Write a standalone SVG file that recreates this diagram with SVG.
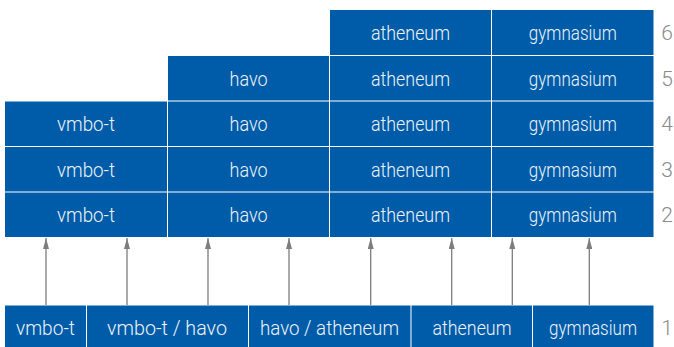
<svg xmlns="http://www.w3.org/2000/svg" width="674" height="347" viewBox="0 0 674 347">
<style>
.c{fill:#005ca8}
.t{font-family:Roboto,"Liberation Sans",sans-serif;font-weight:300;font-size:20px;fill:#eef3f9;text-anchor:middle}
.n{font-family:Roboto,"Liberation Sans",sans-serif;font-weight:300;font-size:21px;fill:#8a8a8a;text-anchor:middle}
.a{stroke:#7d7d7d;stroke-width:1.3;fill:none;marker-end:url(#ah)}
</style>
<defs>
<marker id="ah" viewBox="0 0 11 6" refX="11" refY="3" markerWidth="11" markerHeight="6" markerUnits="userSpaceOnUse" orient="auto">
<path d="M0,0 L11,3 L0,6 Z" fill="#7d7d7d"/>
</marker>
</defs>
<rect width="674" height="347" fill="#fff"/>
<g id="row6">
<g id="r6-atheneum"><rect class="c" x="330" y="10" width="161" height="45"/><text class="t" x="410.5" y="40" textLength="79" lengthAdjust="spacingAndGlyphs">atheneum</text></g>
<g id="r6-gymnasium"><rect class="c" x="492" y="10" width="161.5" height="45"/><text class="t" x="572.8" y="40" textLength="88" lengthAdjust="spacingAndGlyphs">gymnasium</text></g>
<text class="n" x="667" y="40">6</text>
</g>
<g id="row5">
<g id="r5-havo"><rect class="c" x="168" y="56" width="161" height="44.5"/><text class="t" x="248.5" y="85.5" textLength="38" lengthAdjust="spacingAndGlyphs">havo</text></g>
<g id="r5-atheneum"><rect class="c" x="330" y="56" width="161" height="44.5"/><text class="t" x="410.5" y="85.5" textLength="79" lengthAdjust="spacingAndGlyphs">atheneum</text></g>
<g id="r5-gymnasium"><rect class="c" x="492" y="56" width="161.5" height="44.5"/><text class="t" x="572.8" y="85.5" textLength="88" lengthAdjust="spacingAndGlyphs">gymnasium</text></g>
<text class="n" x="667" y="85.5">5</text>
</g>
<g id="row4">
<g id="r4-vmbo"><rect class="c" x="5" y="101.5" width="162" height="44.5"/><text class="t" x="86" y="131" textLength="58" lengthAdjust="spacingAndGlyphs">vmbo-t</text></g>
<g id="r4-havo"><rect class="c" x="168" y="101.5" width="161" height="44.5"/><text class="t" x="248.5" y="131" textLength="38" lengthAdjust="spacingAndGlyphs">havo</text></g>
<g id="r4-atheneum"><rect class="c" x="330" y="101.5" width="161" height="44.5"/><text class="t" x="410.5" y="131" textLength="79" lengthAdjust="spacingAndGlyphs">atheneum</text></g>
<g id="r4-gymnasium"><rect class="c" x="492" y="101.5" width="161.5" height="44.5"/><text class="t" x="572.8" y="131" textLength="88" lengthAdjust="spacingAndGlyphs">gymnasium</text></g>
<text class="n" x="667" y="131">4</text>
</g>
<g id="row3">
<g id="r3-vmbo"><rect class="c" x="5" y="147" width="162" height="44.5"/><text class="t" x="86" y="176.5" textLength="58" lengthAdjust="spacingAndGlyphs">vmbo-t</text></g>
<g id="r3-havo"><rect class="c" x="168" y="147" width="161" height="44.5"/><text class="t" x="248.5" y="176.5" textLength="38" lengthAdjust="spacingAndGlyphs">havo</text></g>
<g id="r3-atheneum"><rect class="c" x="330" y="147" width="161" height="44.5"/><text class="t" x="410.5" y="176.5" textLength="79" lengthAdjust="spacingAndGlyphs">atheneum</text></g>
<g id="r3-gymnasium"><rect class="c" x="492" y="147" width="161.5" height="44.5"/><text class="t" x="572.8" y="176.5" textLength="88" lengthAdjust="spacingAndGlyphs">gymnasium</text></g>
<text class="n" x="667" y="176.5">3</text>
</g>
<g id="row2">
<g id="r2-vmbo"><rect class="c" x="5" y="192.5" width="162" height="44.5"/><text class="t" x="86" y="222" textLength="58" lengthAdjust="spacingAndGlyphs">vmbo-t</text></g>
<g id="r2-havo"><rect class="c" x="168" y="192.5" width="161" height="44.5"/><text class="t" x="248.5" y="222" textLength="38" lengthAdjust="spacingAndGlyphs">havo</text></g>
<g id="r2-atheneum"><rect class="c" x="330" y="192.5" width="161" height="44.5"/><text class="t" x="410.5" y="222" textLength="79" lengthAdjust="spacingAndGlyphs">atheneum</text></g>
<g id="r2-gymnasium"><rect class="c" x="492" y="192.5" width="161.5" height="44.5"/><text class="t" x="572.8" y="222" textLength="88" lengthAdjust="spacingAndGlyphs">gymnasium</text></g>
<text class="n" x="667" y="222">2</text>
</g>
<g id="row1">
<g id="r1-vmbo"><rect class="c" x="5" y="305.5" width="81" height="42"/><text class="t" x="45.5" y="335" textLength="59" lengthAdjust="spacingAndGlyphs">vmbo-t</text></g>
<g id="r1-vmbo-havo"><rect class="c" x="87" y="305.5" width="161" height="42"/><text class="t" x="167" y="335" textLength="120" lengthAdjust="spacingAndGlyphs">vmbo-t / havo</text></g>
<g id="r1-havo-atheneum"><rect class="c" x="249" y="305.5" width="161.5" height="42"/><text class="t" x="329.5" y="335" textLength="139" lengthAdjust="spacingAndGlyphs">havo / atheneum</text></g>
<g id="r1-atheneum"><rect class="c" x="411.5" y="305.5" width="120.5" height="42"/><text class="t" x="472" y="335" textLength="79" lengthAdjust="spacingAndGlyphs">atheneum</text></g>
<g id="r1-gymnasium"><rect class="c" x="533" y="305.5" width="120.5" height="42"/><text class="t" x="593" y="335" textLength="88" lengthAdjust="spacingAndGlyphs">gymnasium</text></g>
<text class="n" x="667" y="335">1</text>
</g>
<g id="connectors">
<line class="a" x1="46" y1="305" x2="46" y2="238"/>
<line class="a" x1="127" y1="305" x2="127" y2="238"/>
<line class="a" x1="208" y1="305" x2="208" y2="238"/>
<line class="a" x1="289" y1="305" x2="289" y2="238"/>
<line class="a" x1="370.7" y1="305" x2="370.7" y2="238"/>
<line class="a" x1="451.7" y1="305" x2="451.7" y2="238"/>
<line class="a" x1="512.3" y1="305" x2="512.3" y2="238"/>
<line class="a" x1="589.3" y1="305" x2="589.3" y2="238"/>
</g>
</svg>
